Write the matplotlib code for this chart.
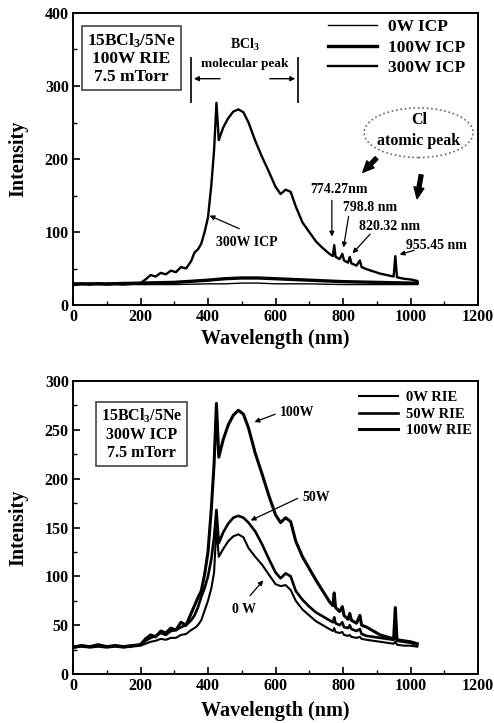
import matplotlib
matplotlib.use("Agg")
import matplotlib.pyplot as plt
from matplotlib.patches import Ellipse

plt.rcParams['font.family'] = ['Liberation Serif', 'DejaVu Serif']
plt.rcParams['font.weight'] = 'bold'
plt.rcParams['mathtext.default'] = 'regular'

# wavelength grid (nm) shared by the peaked spectra
wl = [0, 25, 50, 75, 100, 125, 150, 175,
      200, 215, 230, 245, 260, 275, 290, 305, 320, 335,
      350, 360, 370, 380, 390, 400, 410, 418, 425, 432,
      445, 460, 475, 490, 505, 520, 540, 560, 580, 600,
      615, 630, 645, 660, 680, 700, 720, 740, 760, 770,
      774, 778, 790, 798, 803, 815, 820, 825, 840, 850,
      855, 870, 890, 910, 930, 950, 955, 960, 980, 1000,
      1020]

# top panel: ICP power series (100W RIE)
icp300 = [27, 29, 28, 30, 28, 29, 28, 29,
          30, 35, 41, 39, 44, 42, 47, 45, 52, 50,
          60, 72, 76, 84, 100, 120, 165, 212, 277, 226,
          243, 256, 265, 268, 264, 250, 225, 203, 183, 162,
          152, 158, 155, 135, 113, 100, 87, 78, 70, 67,
          82, 66, 63, 70, 61, 58, 66, 57, 54, 61,
          52, 49, 46, 43, 41, 39, 67, 38, 36, 35,
          33]
wl_base = [0, 100, 200, 300, 400, 450, 500, 550, 600, 700, 800, 900, 1000, 1020]
icp0 = [28, 28, 28, 28, 29, 29, 30, 30, 29, 29, 28, 28, 28, 28]
icp100 = [29, 29, 30, 31, 34, 36, 37, 37, 36, 34, 32, 31, 30, 30]

# bottom panel: RIE power series (300W ICP)
rie100 = [27, 29, 28, 30, 28, 29, 28, 29,
          30, 36, 40, 38, 44, 42, 47, 45, 53, 50,
          62, 70, 78, 85, 102, 125, 170, 215, 277, 222,
          240, 255, 265, 270, 266, 252, 226, 205, 183, 163,
          155, 160, 156, 136, 120, 108, 96, 85, 74, 70,
          83, 68, 64, 69, 60, 56, 62, 55, 52, 60,
          50, 48, 44, 40, 38, 36, 68, 35, 34, 33,
          31]
rie50 = [28, 29, 28, 29, 28, 29, 28, 29,
         30, 34, 37, 39, 42, 40, 44, 45, 48, 50,
         55, 60, 68, 79, 88, 100, 118, 140, 168, 134,
         145, 154, 160, 162, 160, 155, 146, 133, 118, 104,
         98, 103, 100, 85, 76, 69, 63, 59, 55, 53,
         58, 52, 50, 53, 48, 47, 50, 46, 44, 46,
         41, 39, 38, 37, 36, 35, 40, 34, 33, 32,
         30]
rie0 = [27, 28, 27, 28, 27, 28, 27, 28,
        29, 31, 33, 34, 36, 35, 37, 37, 40, 41,
        45, 47, 50, 55, 65, 75, 88, 104, 150, 120,
        128, 136, 141, 143, 140, 129, 120, 112, 102, 92,
        90, 91, 86, 75, 66, 60, 54, 50, 46, 44,
        47, 43, 42, 43, 40, 39, 40, 38, 37, 38,
        36, 35, 34, 33, 32, 31, 33, 30, 29, 29,
        28]

fig = plt.figure(figsize=(4.94, 7.23), dpi=100)
ax1 = fig.add_axes([73/494, 1-305/723, 405/494, 292/723])
ax2 = fig.add_axes([73/494, 1-674/723, 405/494, 293/723])


def style(ax, ymax, ystep, yminor, xpad):
    ax.set_xlim(0, 1200)
    ax.set_ylim(0, ymax)
    ax.set_xticks(range(0, 1201, 200))
    ax.set_xticks(range(0, 1201, 100), minor=True)
    ax.set_yticks(range(0, ymax + 1, ystep))
    ax.set_yticks(range(0, ymax + 1, yminor), minor=True)
    ax.tick_params(which='both', direction='in', labelsize=11.5, pad=3)
    ax.tick_params(which='major', length=5, width=1.2)
    ax.tick_params(which='minor', length=3, width=1)
    for s in ax.spines.values():
        s.set_linewidth(1.4)
    ax.set_xlabel('Wavelength (nm)', fontsize=14.5, fontweight='bold', labelpad=xpad)
    ax.set_ylabel('Intensity', fontsize=14.5, fontweight='bold', labelpad=12)


# ---- top panel
ax1.plot(wl_base, icp0, color='black', lw=1.0, label='0W ICP')
ax1.plot(wl_base, icp100, color='black', lw=2.4, label='100W ICP')
ax1.plot(wl, icp300, color='black', lw=1.7, label='300W ICP')
style(ax1, 400, 100, 50, 3)

ax1.text(173, 338, '15BCl$_3$/5Ne\n100W RIE\n7.5 mTorr', ha='center', va='center',
         fontsize=12.5, linespacing=1.15,
         bbox=dict(boxstyle='square,pad=0.3', fc='white', ec='#444444', lw=1.2))
ax1.legend(loc='upper left', bbox_to_anchor=(328/494, 1-19/723), bbox_transform=fig.transFigure,
           frameon=False, fontsize=12.5, handlelength=2.8, handletextpad=0.65,
           labelspacing=0.25, borderpad=0, borderaxespad=0)

# BCl3 molecular peak bracket
ax1.vlines([350, 667], 277, 340, color='black', lw=1.2)
ax1.annotate('', xy=(350, 310), xytext=(444, 310),
             arrowprops=dict(arrowstyle='-|>', color='black', lw=1, mutation_scale=7))
ax1.annotate('', xy=(667, 310), xytext=(575, 310),
             arrowprops=dict(arrowstyle='-|>', color='black', lw=1, mutation_scale=7))
ax1.text(508, 356, 'BCl$_3$', ha='center', va='center', fontsize=10)
ax1.text(510, 330, 'molecular peak', ha='center', va='center', fontsize=9.5)

# Cl atomic peak
ax1.add_patch(Ellipse((1024, 236), 323, 68, fill=False, ec='#666666', ls=':', lw=1.2))
ax1.text(1025, 253, 'Cl', ha='center', va='center', fontsize=11.5)
ax1.text(1025, 225, 'atomic peak', ha='center', va='center', fontsize=11.5)
ax1.annotate('', xy=(853, 179), xytext=(905, 204),
             arrowprops=dict(arrowstyle='simple,head_width=0.9,head_length=1.0,tail_width=0.35',
                             fc='black', ec='black', mutation_scale=8))
ax1.annotate('', xy=(1018, 142), xytext=(1033, 182),
             arrowprops=dict(arrowstyle='simple,head_width=0.9,head_length=1.0,tail_width=0.35',
                             fc='black', ec='black', mutation_scale=8))

thin = dict(arrowstyle='-|>', color='black', lw=0.9, mutation_scale=7)
ax1.text(788, 158, '774.27nm', ha='center', va='center', fontsize=10)
ax1.annotate('', xy=(767, 90), xytext=(767, 147), arrowprops=thin)
ax1.text(881, 134, '798.8 nm', ha='center', va='center', fontsize=10)
ax1.annotate('', xy=(800, 75), xytext=(818, 125), arrowprops=thin)
ax1.text(939, 107, '820.32 nm', ha='center', va='center', fontsize=10)
ax1.annotate('', xy=(823, 68), xytext=(886, 100), arrowprops=thin)
ax1.text(1076, 82, '955.45 nm', ha='center', va='center', fontsize=10)
ax1.annotate('', xy=(960, 68), xytext=(1019, 76), arrowprops=thin)
ax1.text(515, 86, '300W ICP', ha='center', va='center', fontsize=10)
ax1.annotate('', xy=(397, 124), xytext=(500, 103), arrowprops=thin)

# ---- bottom panel
ax2.plot(wl, rie0, color='black', lw=1.5, label='0W RIE')
ax2.plot(wl, rie50, color='black', lw=1.9, label='50W RIE')
ax2.plot(wl, rie100, color='black', lw=2.2, label='100W RIE')
style(ax2, 300, 50, 25, 5)

ax2.text(204, 246, '15BCl$_3$/5Ne\n300W ICP\n7.5 mTorr', ha='center', va='center',
         fontsize=11.5, linespacing=1.15,
         bbox=dict(boxstyle='square,pad=0.3', fc='white', ec='#444444', lw=1.2))
ax2.legend(loc='upper left', bbox_to_anchor=(359/494, 1-391/723), bbox_transform=fig.transFigure,
           frameon=False, fontsize=10.5, handlelength=2.7, handletextpad=0.5,
           labelspacing=0.22, borderpad=0, borderaxespad=0)

ax2.text(665, 268, '100W', ha='center', va='center', fontsize=10)
ax2.annotate('', xy=(530, 257), xytext=(607, 267), arrowprops=thin)
ax2.text(720, 181, '50W', ha='center', va='center', fontsize=10)
ax2.annotate('', xy=(519, 156), xytext=(673, 181), arrowprops=thin)
ax2.text(507, 66, '0 W', ha='center', va='center', fontsize=10)
ax2.annotate('', xy=(569, 98), xytext=(519, 78), arrowprops=thin)

fig.savefig('out.png', dpi=100)
